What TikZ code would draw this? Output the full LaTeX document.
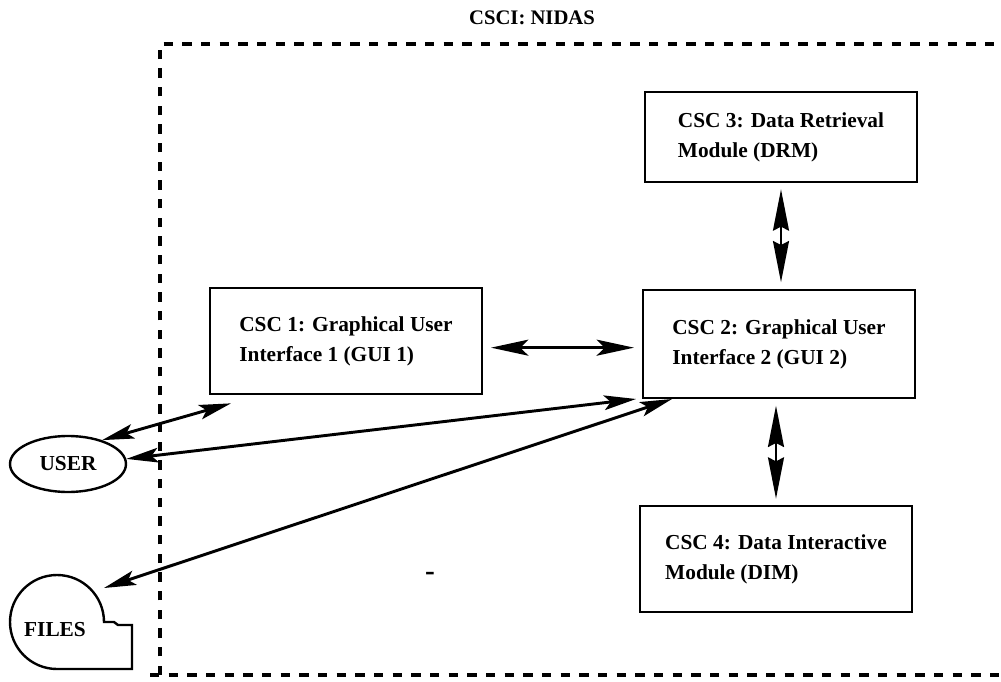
\documentclass[tikz,border=0pt]{standalone}
\usepackage{fontspec}
\setmainfont{Liberation Serif}
\usetikzlibrary{arrows.meta,calc,shapes.geometric}
\begin{document}
\begin{tikzpicture}[x=0.75pt,y=-0.75pt,
  csc/.style={draw,line width=1.5pt,minimum width=204pt,align=left,
    font=\bfseries\fontsize{16}{22.5}\selectfont,inner sep=0pt},
  link/.style={line width=2.2pt,{Stealth[length=24pt,width=11pt,inset=5pt]}-{Stealth[length=24pt,width=11pt,inset=5pt]}},
  hlink/.style={line width=2pt,{Stealth[length=28pt,width=12pt,inset=6pt]}-{Stealth[length=28pt,width=12pt,inset=6pt]}},
  vlink/.style={line width=1.6pt,{Stealth[length=31pt,width=12pt,inset=3pt]}-{Stealth[length=31pt,width=12pt,inset=3pt]}},
  lbl/.style={font=\bfseries\fontsize{16}{19}\selectfont},
  bound/.style={line width=2.4pt,dash pattern=on 7pt off 7pt}]
\useasboundingbox (0,0) rectangle (1001,682);
% boundary
\draw[bound] (160,675) -- (160,44) -- (1010,44);
\draw[bound] (150,675) -- (1010,675);
\node[font=\bfseries\fontsize{15.5}{18}\selectfont] (title) at (532,18) {CSCI: NIDAS};
% boxes
\node[csc,minimum height=67pt] (drm) at (781,137) {CSC 3: Data Retrieval\\Module (DRM)};
\node[csc,minimum height=80pt] (gui1) at (346,341) {CSC 1: Graphical User\\Interface 1 (GUI 1)};
\node[csc,minimum height=81pt] (gui2) at (779,344) {CSC 2: Graphical User\\Interface 2 (GUI 2)};
\node[csc,minimum height=79pt] (dim) at (776,559) {CSC 4: Data Interactive\\Module (DIM)};
% external entities
\node[draw,line width=1.8pt,ellipse,minimum width=87pt,minimum height=42pt,inner sep=0pt,lbl] (user) at (68,464) {USER};
\coordinate (fc) at (57,622);
\draw[line width=1.8pt] ($(fc)+(0,47)$) arc[start angle=270,end angle=0,radius=35.25pt]
  -- ++(10,0) -- ++(4,3) -- ++(14,0) -- ++(0,44) -- cycle;
\node[lbl] (files) at (55,630) {FILES};
\coordinate (filestip) at (104,588);
% connectors
\coordinate (h1) at ([yshift=-5pt,xshift=6pt]gui1.east);
\draw[hlink] (h1) -- ([xshift=-6pt]gui2.west |- h1);
\draw[vlink] ([yshift=-5pt]drm.south) -- ([yshift=5pt]gui2.north -| drm.south);
\draw[vlink] ([yshift=-5pt]gui2.south -| dim.north) -- ([yshift=5pt]dim.north);
\draw[link] ($(gui1.south west)+(22,8)$) -- (user.35);
\draw[link] (user.5) -- ($(gui2.south west)+(-6,0)$);
\draw[link] (filestip) -- ($(gui2.south west)+(30,0)$);
\node[font=\bfseries\fontsize{22}{24}\selectfont] (mark) at (430,576) {-};
\end{tikzpicture}
\end{document}
